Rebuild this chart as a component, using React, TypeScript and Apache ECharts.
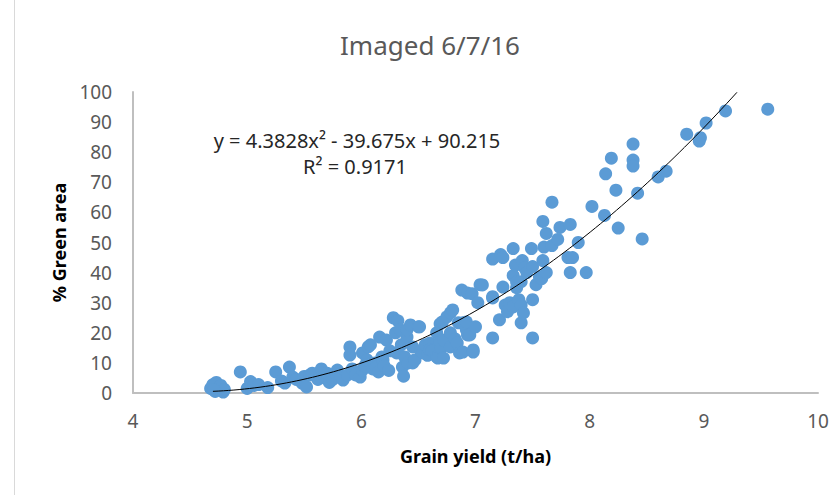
import React, { useEffect, useRef } from "react";
import * as echarts from "echarts";

const titleText = "Imaged 6/7/16";
const xAxisName = "Grain yield (t/ha)";
const yAxisName = "% Green area";
const equationText = "y = 4.3828x² - 39.675x + 90.215";
const r2Text = "R² = 0.9171";

// trendline coefficients (polynomial order 2) as printed on the chart
const coefA = 4.3828;
const coefB = -39.675;
const coefC = 90.215;
const trendStart = 4.7;
const trendEnd = 9.29;

// grain yield (t/ha)
const yieldValues: number[] = [
  4.68, 4.7, 4.72, 4.73, 4.75, 4.77, 4.79, 4.8, 4.71,
  4.94, 5.0, 5.03, 5.06, 5.1, 5.18, 5.25, 5.3, 5.33, 5.37, 5.4, 5.43, 5.48, 5.5, 5.52, 5.55, 5.57,
  5.62, 5.65, 5.68, 5.7, 5.72, 5.75, 5.78, 5.79, 5.82, 5.84, 5.88, 5.9, 5.9, 5.92, 5.95, 5.99,
  6.01, 6.01, 6.03, 6.05, 6.06, 6.08, 6.1, 6.12, 6.13, 6.15, 6.16, 6.18, 6.19, 6.2, 6.22, 6.24,
  6.25, 6.28, 6.3, 6.31, 6.32, 6.34, 6.35, 6.36, 6.37, 6.38, 6.4, 6.4, 6.41, 6.43, 6.45, 6.45,
  6.47, 6.5, 6.51, 6.52, 6.54, 6.56, 6.58, 6.6, 6.6, 6.62, 6.66, 6.66, 6.67, 6.69, 6.69, 6.7,
  6.71, 6.72, 6.72, 6.75, 6.78, 6.78, 6.78, 6.8, 6.82, 6.84, 6.85, 6.86, 6.88, 6.89, 6.89, 6.92,
  6.92, 6.93, 6.93, 6.95, 6.97, 6.98, 6.98, 7.0, 7.02, 7.04, 7.06,
  7.15, 7.15, 7.15, 7.15, 7.21, 7.22, 7.24, 7.24, 7.26, 7.28, 7.3, 7.33, 7.33, 7.33, 7.35, 7.36,
  7.36, 7.38, 7.4, 7.4, 7.4, 7.41, 7.42, 7.43, 7.45, 7.49, 7.5, 7.5, 7.5, 7.53, 7.56, 7.58,
  7.59, 7.59, 7.6, 7.62, 7.62, 7.67, 7.67, 7.72, 7.74, 7.81, 7.83, 7.83, 7.85, 7.9, 7.97, 8.02,
  8.13, 8.14, 8.19, 8.23, 8.25, 8.38, 8.38, 8.38, 8.42, 8.46, 8.6, 8.67, 8.85, 8.96, 8.97, 9.02,
  9.19, 9.56,
];

// % green area
const greenValues: number[] = [
  1.5, 2.8, 0.5, 3.5, 1.8, 2.5, 0.3, 1.2, 1.0,
  7, 1.5, 3.8, 2.5, 2.8, 1.8, 7, 4, 3.3, 8.6, 5.3, 4.5, 3.3, 5.5, 2, 6, 6.6,
  4.5, 8, 5, 6.6, 3.5, 4.5, 6.5, 7.6, 5.5, 4.3, 6, 15.3, 12.6, 8, 6, 5.3,
  13.3, 7.6, 9, 11, 15.3, 16, 8, 10, 8.6, 7, 18.6, 12, 11, 9, 17.6, 7.5,
  14, 25, 20, 13.3, 24, 21, 16, 8.6, 5.6, 12, 18.6, 21, 10, 22.6, 15.3, 10,
  11, 22, 22, 14, 13.3, 16, 12.5, 16.6, 14.3, 14, 12, 20, 11.6, 23, 17, 15,
  23.6, 17.6, 11.6, 25.3, 26.6, 20, 15.3, 27.6, 18, 16.6, 23.3, 13.3, 34.2, 23.3, 13.6, 21,
  23.6, 33.2, 19.3, 19.3, 33, 14.3, 13.6, 22, 30, 36, 35.9,
  32, 18.3, 44.5, 31.6, 24.3, 46, 35.2, 45, 29.2, 27, 30, 39, 48, 28.6, 42.5, 35,
  36.9, 31, 29.2, 23.3, 37, 44, 26.6, 41.6, 40, 48, 31, 18.3, 42, 36, 38.5, 38,
  44, 57, 48.5, 40, 53, 49, 63.4, 51, 55, 45, 56, 40, 45, 50, 40, 62,
  59, 72.8, 78, 67.4, 54.8, 82.7, 77.4, 75.4, 66.4, 51.2, 71.8, 73.7, 86, 83.7, 84.8, 89.7,
  93.7, 94.3,
];

const xTicks = { min: 4, max: 10, interval: 1 };
const yTicks = { min: 0, max: 100, interval: 10 };

export default function App() {
  const ref = useRef<HTMLDivElement>(null);

  useEffect(() => {
    if (!ref.current) return;
    const chart = echarts.init(ref.current, undefined, { renderer: "svg" });

    const scatterData = yieldValues.map((x, i) => [x, greenValues[i]]);
    const trendData: number[][] = [];
    const steps = 100;
    for (let i = 0; i <= steps; i++) {
      const x = trendStart + ((trendEnd - trendStart) * i) / steps;
      trendData.push([x, coefA * x * x + coefB * x + coefC]);
    }

    const font = "'Noto Sans', 'Open Sans', sans-serif";

    chart.setOption({
      animation: false,
      backgroundColor: "#ffffff",
      title: {
        text: titleText,
        left: 425,
        top: 27,
        textAlign: "center",
        textStyle: {
          fontFamily: font,
          fontSize: 26,
          fontWeight: "normal",
          color: "#595959",
        },
      },
      grid: { left: 133, right: 22, top: 92, bottom: 102, containLabel: false },
      xAxis: {
        type: "value",
        min: xTicks.min,
        max: xTicks.max,
        interval: xTicks.interval,
        name: xAxisName,
        nameLocation: "middle",
        nameGap: 54,
        nameTextStyle: { fontFamily: font, fontSize: 18, fontWeight: "bold", color: "#000" },
        axisLine: { show: true, lineStyle: { color: "#bfbfbf", width: 2 } },
        axisTick: { show: false },
        splitLine: { show: false },
        axisLabel: { fontFamily: font, fontSize: 19, color: "#595959", margin: 18 },
      },
      yAxis: {
        type: "value",
        min: yTicks.min,
        max: yTicks.max,
        interval: yTicks.interval,
        name: yAxisName,
        nameLocation: "middle",
        nameGap: 62,
        nameTextStyle: { fontFamily: font, fontSize: 18, fontWeight: "bold", color: "#000" },
        axisLine: { show: true, lineStyle: { color: "#bfbfbf", width: 2 } },
        axisTick: { show: false },
        splitLine: { show: false },
        axisLabel: { fontFamily: font, fontSize: 19, color: "#595959", margin: 21 },
      },
      series: [
        {
          type: "scatter",
          data: scatterData,
          symbol: "circle",
          symbolSize: 13,
          itemStyle: { color: "#5b9bd5", opacity: 1 },
          z: 2,
        },
        {
          type: "line",
          data: trendData,
          showSymbol: false,
          smooth: false,
          lineStyle: { color: "#000000", width: 1 },
          z: 3,
        },
      ],
      graphic: [
        {
          type: "line",
          shape: { x1: 14.5, y1: 0, x2: 14.5, y2: 495 },
          style: { stroke: "#d9d9d9", lineWidth: 1 },
        },
        {
          type: "text",
          x: 357,
          y: 140,
          style: {
            text: equationText,
            fontFamily: font,
            fontSize: 20,
            fill: "#262626",
            align: "center",
            verticalAlign: "middle",
          },
        },
        {
          type: "text",
          x: 355,
          y: 166,
          style: {
            text: r2Text,
            fontFamily: font,
            fontSize: 20,
            fill: "#262626",
            align: "center",
            verticalAlign: "middle",
          },
        },
      ],
    });

    return () => chart.dispose();
  }, []);

  return <div ref={ref} style={{ width: 840, height: 495, position: "absolute", left: 0, top: 0 }} />;
}
